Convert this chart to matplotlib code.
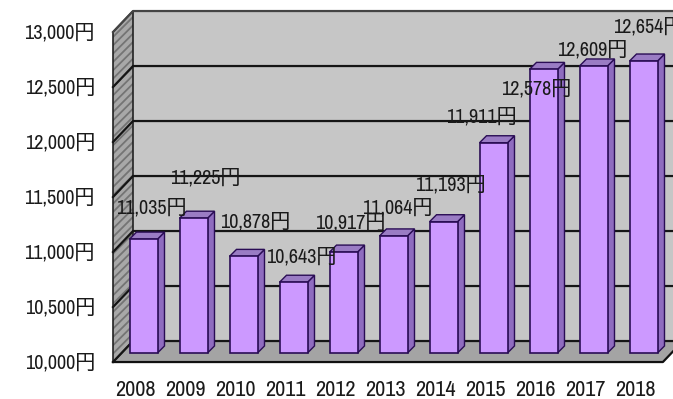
import matplotlib.pyplot as plt
from matplotlib.patches import Polygon

years = ["2008", "2009", "2010", "2011", "2012", "2013", "2014", "2015", "2016", "2017", "2018"]
prices = [11035, 11225, 10878, 10643, 10917, 11064, 11193, 11911, 12578, 12609, 12654]
ticks = [10000, 10500, 11000, 11500, 12000, 12500, 13000]

# nudges (pixels) of each value label from its bar top, as placed in the original
label_dx = [7.5, 11.5, 11.5, 7.5, 6.5, 3.5, 6.5, -12.5, -7.5, -1.5, 4.5]
label_dy = [31, 40, 34, 25, 29, 28, 37, 26, -20, 16, 34]

fonts = ['Archivo Narrow', 'BIZ UDPGothic', 'Noto Sans CJK JP', 'DejaVu Sans']
plt.rcParams['hatch.linewidth'] = 1.3

fig = plt.figure(figsize=(6.73, 3.99), dpi=100)
ax = fig.add_axes([0, 0, 1, 1])
ax.set_xlim(-2.87, 10.59)
ax.set_ylim(9581.8, 13209.1)
ax.axis('off')

# fake 3d depth (front plane d=0, back wall d=1, bars sit in between)
DX = 0.4
DY = 191
BAR_D = 0.43
xL = -0.438
xR = 10.56
base = ticks[0]
top = ticks[-1]


def at(x, v, d):
    return (x + (d - BAR_D) * DX, v + (d - BAR_D) * DY)


# walls and floor
ax.add_patch(Polygon([at(xL, base, 1), at(xR, base, 1), at(xR, top, 1), at(xL, top, 1)],
                     closed=True, facecolor='#c6c6c6', edgecolor='none', zorder=1))
ax.add_patch(Polygon([at(xL, base, 0), at(xR, base, 0), at(xR, base, 1), at(xL, base, 1)],
                     closed=True, facecolor='#a4a4a4', edgecolor='none', zorder=1))
side = [at(xL, base, 0), at(xL, base, 1), at(xL, top, 1), at(xL, top, 0)]
ax.add_patch(Polygon(side, closed=True, facecolor='#a8a8a8', edgecolor='#747474',
                     hatch='////', linewidth=0, zorder=1))
ax.add_patch(Polygon(side, closed=True, fill=False, edgecolor='#222222', linewidth=1.2, zorder=2))

# gridlines running across the side wall and the back wall
for t in ticks:
    p0 = at(xL, t, 0)
    p1 = at(xL, t, 1)
    p2 = at(xR, t, 1)
    col = '#444444' if t == top else '#151515'
    ax.plot([p0[0], p1[0], p2[0]], [p0[1], p1[1], p2[1]], color=col, lw=1.6, zorder=2)

# front edge of the floor
f0 = at(xL, base, 0)
f1 = at(xR, base, 0)
f2 = at(xR, base, 1)
ax.plot([f0[0], f1[0], f2[0]], [f0[1], f1[1], f2[1]], color='#111111', lw=1.6, zorder=2)

# bars
w = 0.56
bdx = 0.14
bdy = 64
for i, v in enumerate(prices):
    l = i - w / 2
    r = i + w / 2
    ax.add_patch(Polygon([(r, base), (r + bdx, base + bdy), (r + bdx, v + bdy), (r, v)],
                         closed=True, facecolor='#8f6cbf', edgecolor='#2a0d55', lw=1, zorder=3))
    ax.add_patch(Polygon([(l, v), (l + bdx, v + bdy), (r + bdx, v + bdy), (r, v)],
                         closed=True, facecolor='#9a7cc4', edgecolor='#2a0d55', lw=1, zorder=3))
    ax.add_patch(Polygon([(l, base), (r, base), (r, v), (l, v)],
                         closed=True, facecolor='#cc99ff', edgecolor='#2a0d55', lw=1.2, zorder=4))

# value labels
for i, v in enumerate(prices):
    ax.annotate(f"{v:,}円", xy=(i, v), xytext=(label_dx[i] * 0.72, label_dy[i] * 0.72),
                textcoords='offset points', ha='center', va='center',
                fontsize=14.5, family=fonts, color='#1a1a1a', zorder=6)

# value axis labels
for t in ticks:
    ax.annotate(f"{t:,}円", xy=at(xL, t, 0), xytext=(-18 * 0.72, -1),
                textcoords='offset points', ha='right', va='center',
                fontsize=14.5, family=fonts, color='#1a1a1a')

# year labels
for i, y in enumerate(years):
    ax.annotate(y, xy=at(i, base, 0), xytext=(0, -28 * 0.72),
                textcoords='offset points', ha='center', va='center',
                fontsize=16, family=fonts, color='#1a1a1a')

fig.savefig("out.png", dpi=100)
